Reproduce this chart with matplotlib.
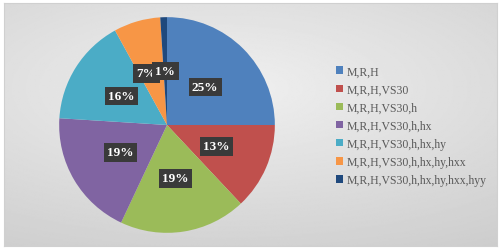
import numpy as np
import matplotlib.pyplot as plt

# slice shares (%) and legend labels
labels = ['M,R,H', 'M,R,H,VS30', 'M,R,H,VS30,h', 'M,R,H,VS30,h,hx',
          'M,R,H,VS30,h,hx,hy', 'M,R,H,VS30,h,hx,hy,hxx',
          'M,R,H,VS30,h,hx,hy,hxx,hyy']
shares = [25, 13, 19, 19, 16, 7, 1]
colors = ['#4F81BD', '#C0504D', '#9BBB59', '#8064A2', '#4BACC6', '#F79646', '#1F497D']

fig = plt.figure(figsize=(5, 2.53), dpi=100)
fig.patch.set_facecolor('white')

# background panel with soft radial gradient
bg = fig.add_axes([0.008, 0.024, 0.986, 0.96])
yy, xx = np.mgrid[0:1:200j, 0:1:400j]
r = np.sqrt(((xx - 0.45) / 1.0) ** 2 + ((yy - 0.35) / 0.8) ** 2)
bg.imshow(0.94 - 0.14 * np.clip(r, 0, 1), cmap='gray', vmin=0, vmax=1,
          aspect='auto', extent=[0, 1, 0, 1], origin='upper')
bg.set_xticks([])
bg.set_yticks([])
for s in bg.spines.values():
    s.set_color('#d0d0d0')
    s.set_linewidth(0.8)

# pie
ax = fig.add_axes([0.114, 0.067, 0.44, 0.87])
wedges, texts = ax.pie(shares, colors=colors, startangle=90, counterclock=False,
                       labels=[f'{v}%' for v in shares], labeldistance=0.5,
                       wedgeprops=dict(linewidth=0))
for t in texts:
    t.set_fontfamily('Liberation Serif')
    t.set_fontweight('bold')
    t.set_fontsize(9.5)
    t.set_color('white')
    t.set_ha('center')
    t.set_va('center')
    t.set_bbox(dict(boxstyle='square,pad=0.25', fc='#3a3a3a', ec='none'))
# the 7% label sits partly under the 1% label, as in the original
x7, y7 = texts[5].get_position()
texts[5].set_position((x7 - 0.05, y7))
texts[5].set_zorder(2)
texts[6].set_zorder(3)
ax.set_xlim(-1.02, 1.02)
ax.set_ylim(-1.02, 1.02)
ax.set_aspect('equal')
ax.axis('off')

leg = fig.legend(wedges, labels, loc='upper left', bbox_to_anchor=(0.65, 0.78),
                 frameon=False, handlelength=0.6, handleheight=0.6,
                 handletextpad=0.3, labelspacing=0.52,
                 prop={'family': 'Liberation Serif', 'size': 8.5})
for t in leg.get_texts():
    t.set_color('#595959')

fig.savefig('out.png', dpi=100)
